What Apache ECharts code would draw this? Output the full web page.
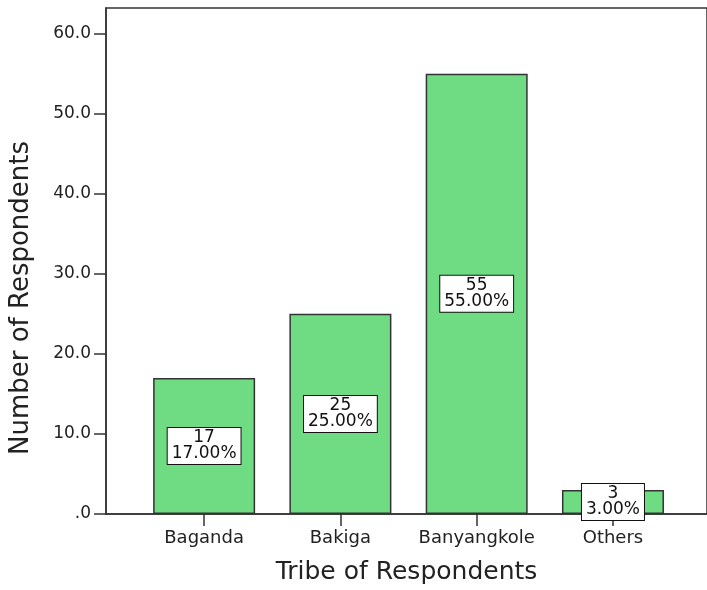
<!DOCTYPE html>
<html>
<head>
<meta charset="utf-8">
<script src="https://cdn.jsdelivr.net/npm/echarts@6/dist/echarts.min.js"></script>
<style>
  html, body { margin: 0; padding: 0; background: #fff; }
  #chart { width: 707px; height: 590px; }
</style>
</head>
<body>
<div id="chart"></div>
<script>
// Tribe of respondents (counts)
const tribes = ['Baganda', 'Bakiga', 'Banyangkole', 'Others'];
const counts = [17, 25, 55, 3];
const yTicks = [0, 10, 20, 30, 40, 50, 60];

const total = counts.reduce((a, b) => a + b, 0);
const font = 'DejaVu Sans';
const ink = '#222';
const frame = '#333';

const chart = echarts.init(document.getElementById('chart'), null, { renderer: 'canvas' });

chart.setOption({
  animation: false,
  backgroundColor: '#fff',
  grid: {
    left: 104, top: 8, right: -5, bottom: 72,
    show: true, borderColor: frame, borderWidth: 1.5, backgroundColor: 'transparent'
  },
  xAxis: {
    type: 'value',
    min: -0.72,
    max: 3.69,
    name: 'Tribe of Respondents',
    nameLocation: 'middle',
    nameGap: 46,
    nameTextStyle: { fontFamily: font, fontSize: 25, color: ink },
    axisLine: { show: true, onZero: false, lineStyle: { color: frame, width: 1.5 } },
    axisTick: { show: true, length: 12, customValues: tribes.map((_, i) => i), lineStyle: { color: frame, width: 1.5 } },
    axisLabel: {
      customValues: tribes.map((_, i) => i),
      formatter: v => tribes[Math.round(v)] || '',
      margin: 15, fontFamily: font, fontSize: 18, color: ink
    },
    splitLine: { show: false }
  },
  yAxis: {
    type: 'value',
    min: 0,
    max: 63.2,
    name: 'Number of Respondents',
    nameLocation: 'middle',
    nameGap: 72,
    nameRotate: 90,
    nameTextStyle: { fontFamily: font, fontSize: 26, color: ink, padding: [0, 74, 0, 0] },
    axisLine: { show: true, onZero: false, lineStyle: { color: frame, width: 1.5 } },
    axisTick: { show: true, length: 12, customValues: yTicks, lineStyle: { color: frame, width: 1.5 } },
    axisLabel: {
      customValues: yTicks,
      formatter: v => (v === 0 ? '.0' : v.toFixed(1)),
      margin: 15, fontFamily: font, fontSize: 17, color: ink
    },
    splitLine: { show: false }
  },
  series: [{
    type: 'bar',
    barWidth: 102,
    data: counts.map((c, i) => [i, c]),
    itemStyle: { color: '#6fdc84', borderColor: frame, borderWidth: 1.5 },
    label: {
      show: true,
      position: 'inside',
      formatter: p => p.value[1] + '\n' + (p.value[1] / total * 100).toFixed(2) + '%',
      fontFamily: font,
      fontSize: 17,
      lineHeight: 16,
      color: '#111',
      align: 'center',
      backgroundColor: '#fff',
      borderColor: '#111',
      borderWidth: 1,
      padding: [3, 4, 1, 4]
    }
  }]
});
</script>
</body>
</html>
